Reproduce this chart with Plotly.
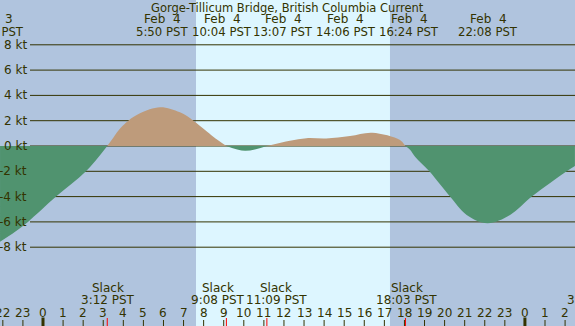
import plotly.graph_objects as go

# ---------------- data (hours since Feb 4 00:00 PST, knots) ----------------
curve_hours = [-2.14, -1.39, -0.75, 0.65, 2.14, 3.20,
               3.50, 3.85, 4.25, 4.83, 5.833, 6.82, 7.49, 8.07, 8.48, 9.133,
               10.067, 11.15,
               12.30, 13.117, 14.10, 15.29, 16.40, 17.78, 18.05,
               18.28, 18.53, 19.24, 20.27, 21.10, 22.133, 23.26, 24.34, 26.08, 26.49]
curve_knots = [-7.56, -6.77, -6.0, -4.0, -2.0, 0.0,
               0.66, 1.4, 2.0, 2.58, 3.06, 2.66, 2.0, 1.26, 0.74, 0.0,
               -0.38, 0.0,
               0.42, 0.62, 0.60, 0.79, 1.05, 0.47, 0.0,
               -0.30, -0.84, -2.0, -4.0, -5.45, -6.10, -5.45, -4.0, -2.0, -1.58]

title_text = "Gorge-Tillicum Bridge, British Columbia Current"

event_dates = ["Feb\u00a0\u00a03", "Feb\u00a0\u00a04", "Feb\u00a0\u00a04", "Feb\u00a0\u00a04",
               "Feb\u00a0\u00a04", "Feb\u00a0\u00a04", "Feb\u00a0\u00a04"]
event_times = ["21:34 PST", "5:50 PST", "10:04 PST", "13:07 PST",
               "14:06 PST", "16:24 PST", "22:08 PST"]

slack_hours = [3.20, 9.133, 11.15, 18.05, 27.42]
slack_times = ["3:12 PST", "9:08 PST", "11:09 PST", "18:03 PST", "3:25 PST"]

sunrise_hour = 7.62
sunset_hour = 17.28

y_ticks = [8, 6, 4, 2, 0, -2, -4, -6, -8]
hour_ticks = list(range(-2, 27))

# ---------------- layout helpers ----------------
W, H = 575, 326
X0_PX, PX_PER_H = 43.0, 20.08
Y0_PX, PX_PER_KT = 146.0, 12.65
x_range = [(0 - X0_PX) / PX_PER_H, (W - X0_PX) / PX_PER_H]
y_range = [(Y0_PX - H) / PX_PER_KT, Y0_PX / PX_PER_KT]


def hx(px):
    return (px - X0_PX) / PX_PER_H


def ky(py):
    return (Y0_PX - py) / PX_PER_KT


def yp(py):
    return 1 - py / H


def xp(px):
    return px / W


# label centres (pixels), nudged apart like the original layout
event_label_px = [-6, 162, 222, 283, 346, 409, 488]
slack_label_px = [107.5, 218, 276, 406.5, 593.5]

BG = "#B0C4DE"
DAY = "#DDF6FF"
GREEN = "#50936F"
TAN = "#BE9B7B"
INK = "#333300"
FONT = "DejaVu Sans"

fig = go.Figure()

# grid lines (drawn first so fills cover them)
gx, gy = [], []
for v in y_ticks:
    gx += [hx(30), x_range[1] + 1, None]
    gy += [v, v, None]
fig.add_trace(go.Scatter(x=gx, y=gy, mode="lines", line=dict(color=INK, width=1),
                         hoverinfo="skip", showlegend=False))

# split curve into positive / negative segments at zero points
segments = []
cur_x, cur_y = [curve_hours[0]], [curve_knots[0]]
for h, k in zip(curve_hours[1:], curve_knots[1:]):
    cur_x.append(h)
    cur_y.append(k)
    if k == 0:
        segments.append((cur_x, cur_y))
        cur_x, cur_y = [h], [k]
if len(cur_x) > 1:
    segments.append((cur_x, cur_y))

for sx, sy in segments:
    sign = sum(sy)
    color = TAN if sign > 0 else GREEN
    fig.add_trace(go.Scatter(x=sx, y=sy, mode="lines", fill="tozeroy",
                             line=dict(width=0, shape="spline", smoothing=1.0, color=color),
                             fillcolor=color, hoverinfo="skip", showlegend=False))

# hour ticks
tx, ty, mx, my = [], [], [], []
for h in hour_ticks:
    if h % 24 == 0:
        mx += [h, h, None]
        my += [ky(317.5), y_range[0] - 1, None]
    else:
        tx += [h, h, None]
        ty += [ky(320), y_range[0] - 1, None]
fig.add_trace(go.Scatter(x=tx, y=ty, mode="lines", line=dict(color=INK, width=1),
                         hoverinfo="skip", showlegend=False))
fig.add_trace(go.Scatter(x=mx, y=my, mode="lines", line=dict(color=INK, width=3),
                         hoverinfo="skip", showlegend=False))
rx, ry = [], []
for h in slack_hours:
    rx += [h, h, None]
    ry += [ky(318), y_range[0] - 1, None]
fig.add_trace(go.Scatter(x=rx, y=ry, mode="lines", line=dict(color="#FF0000", width=1),
                         hoverinfo="skip", showlegend=False))

ann = []
f12 = dict(family=FONT, size=12, color=INK)
ft = dict(family=FONT, size=11.7, color=INK)
ann.append(dict(x=0.5, xref="paper", y=yp(8), yref="paper", text=title_text,
                showarrow=False, font=dict(family=FONT, size=11.5, color=INK),
                xanchor="center", yanchor="middle"))
for lx, d, t in zip(event_label_px, event_dates, event_times):
    ann.append(dict(x=xp(lx), xref="paper", y=yp(19.5), yref="paper", text=d,
                    showarrow=False, font=f12, xanchor="center", yanchor="middle"))
    ann.append(dict(x=xp(lx), xref="paper", y=yp(32), yref="paper", text=t,
                    showarrow=False, font=ft, xanchor="center", yanchor="middle"))
for lx, t in zip(slack_label_px, slack_times):
    ann.append(dict(x=xp(lx), xref="paper", y=yp(287.5), yref="paper", text="Slack",
                    showarrow=False, font=f12, xanchor="center", yanchor="middle"))
    ann.append(dict(x=xp(lx), xref="paper", y=yp(300), yref="paper", text=t,
                    showarrow=False, font=f12, xanchor="center", yanchor="middle"))
for h in hour_ticks:
    ann.append(dict(x=h, y=yp(312.5), yref="paper", text=str(h % 24), showarrow=False,
                    font=f12, xanchor="center", yanchor="middle"))
for v in y_ticks:
    ann.append(dict(x=xp(28.5), xref="paper", y=v, text=f"{v} kt", showarrow=False,
                    font=f12, xanchor="right", yanchor="middle"))

shapes = [dict(type="rect", xref="x", yref="paper", x0=sunrise_hour, x1=sunset_hour,
               y0=0, y1=1, fillcolor=DAY, line=dict(width=0), layer="below")]

fig.update_layout(
    width=W, height=H, margin=dict(l=0, r=0, t=0, b=0),
    paper_bgcolor=BG, plot_bgcolor=BG,
    xaxis=dict(range=x_range, visible=False, fixedrange=True),
    yaxis=dict(range=y_range, visible=False, fixedrange=True),
    annotations=ann, shapes=shapes, showlegend=False,
)

fig.write_html(
    "out.html",
    config={"displayModeBar": False},
    post_script="document.body.style.margin='0';document.body.style.overflow='hidden';",
)
